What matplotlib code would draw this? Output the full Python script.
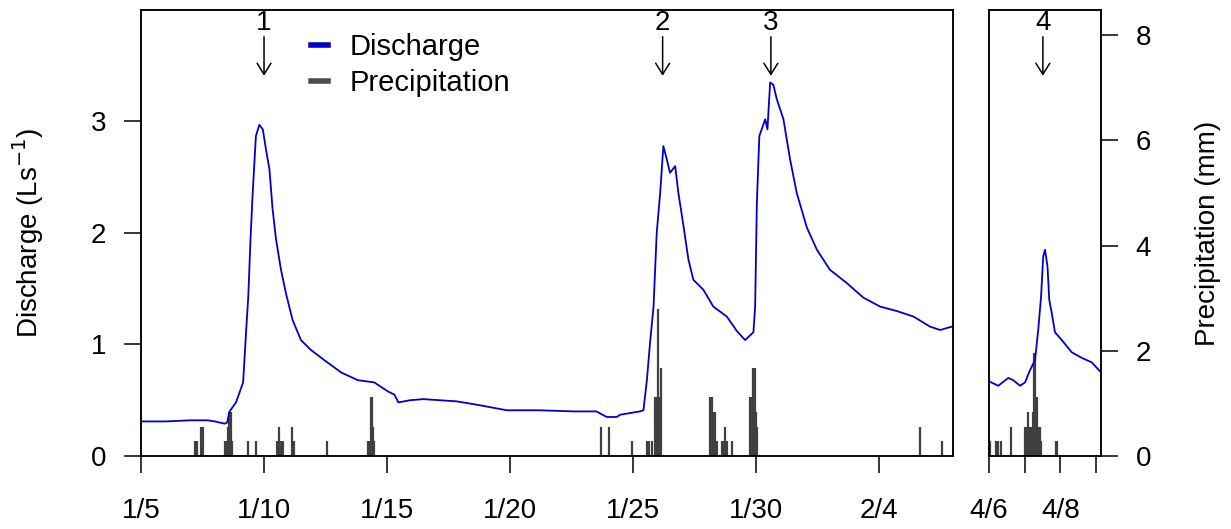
import matplotlib
matplotlib.use('Agg')
import matplotlib.pyplot as plt
from matplotlib.lines import Line2D

plt.rcParams['font.family'] = ['Liberation Sans', 'DejaVu Sans']
plt.rcParams['font.size'] = 20

# discharge, days since 1/5 (L/s)
q_days = [0.0, 1.0, 2.0, 2.7, 3.0, 3.4, 3.5, 3.6, 3.86, 4.15, 4.27, 4.36, 4.45, 4.54,
          4.67, 4.81, 4.95, 5.08, 5.22, 5.35, 5.49, 5.69, 5.89, 6.16, 6.5, 6.91, 7.45,
          8.13, 8.81, 9.48, 10.03, 10.3, 10.46, 10.93, 11.47, 12.83, 13.65, 14.87, 16.2,
          17.57, 18.5, 18.93, 19.34, 19.47, 20.28, 20.42, 20.56, 20.69, 20.83, 20.96,
          21.1, 21.23, 21.37, 21.5, 21.71, 21.84, 22.05, 22.25, 22.45, 22.86, 23.26,
          23.81, 24.22, 24.55, 24.89, 24.96, 25.03, 25.13, 25.37, 25.46, 25.57, 25.7,
          25.84, 26.11, 26.38, 26.65, 27.06, 27.47, 28.0, 28.69, 29.36, 30.04, 30.72,
          31.4, 32.07, 32.48, 32.95, 33.0]
q_vals = [0.31, 0.31, 0.32, 0.32, 0.31, 0.29, 0.30, 0.40, 0.48, 0.66, 1.11, 1.43, 1.94, 2.36,
          2.87, 2.97, 2.93, 2.75, 2.57, 2.21, 1.94, 1.67, 1.46, 1.22, 1.04, 0.95, 0.86,
          0.75, 0.68, 0.66, 0.58, 0.55, 0.48, 0.50, 0.51, 0.49, 0.46, 0.41, 0.41,
          0.40, 0.40, 0.35, 0.35, 0.37, 0.40, 0.41, 0.68, 1.02, 1.34, 2.00,
          2.36, 2.78, 2.66, 2.54, 2.60, 2.36, 2.06, 1.76, 1.58, 1.49, 1.34,
          1.25, 1.12, 1.04, 1.11, 1.34, 2.27, 2.87, 3.02, 2.93, 3.35, 3.33,
          3.20, 3.02, 2.66, 2.36, 2.05, 1.85, 1.67, 1.55, 1.42, 1.34, 1.30,
          1.25, 1.16, 1.13, 1.16, 1.15]

# discharge, days since 4/6
q2_days = [0.0, 0.26, 0.54, 0.68, 0.87, 1.01, 1.15, 1.29, 1.38, 1.46, 1.52, 1.57, 1.64,
           1.69, 1.76, 1.85, 2.04, 2.32, 2.6, 2.88, 3.14]
q2_vals = [0.67, 0.63, 0.70, 0.68, 0.63, 0.66, 0.77, 0.86, 1.13, 1.43, 1.79, 1.85, 1.70,
           1.40, 1.28, 1.11, 1.04, 0.93, 0.88, 0.84, 0.75]

# precipitation (mm)
p_days = [2.19, 2.26, 2.43, 2.50, 3.40, 3.46, 3.52, 3.58, 3.64, 3.69, 4.36, 4.66,
          5.52, 5.58, 5.62, 5.68, 5.74, 5.79, 6.12, 6.20, 7.55,
          9.22, 9.28, 9.33, 9.38, 9.43, 9.48, 18.71, 19.01, 19.97,
          20.56, 20.64, 20.76, 20.88, 20.94, 21.00, 21.06, 21.14,
          23.13, 23.19, 23.26, 23.31, 23.43, 23.63, 23.68, 23.73, 23.78, 23.83, 24.01,
          24.76, 24.82, 24.88, 24.94, 24.99, 25.05, 31.64, 32.55]
p_mm = [0.28, 0.28, 0.56, 0.56, 0.28, 0.28, 0.56, 0.84, 0.84, 0.28, 0.28, 0.28,
        0.28, 0.28, 0.56, 0.28, 0.28, 0.28, 0.56, 0.28, 0.28,
        0.28, 0.28, 1.12, 1.12, 0.56, 0.28, 0.56, 0.56, 0.28,
        0.28, 0.28, 0.28, 1.12, 1.12, 2.80, 1.12, 1.68,
        1.12, 1.12, 0.84, 0.84, 0.28, 0.28, 0.28, 0.56, 0.28, 0.28, 0.28,
        1.12, 1.12, 1.68, 1.68, 0.84, 0.56, 0.56, 0.28]

p2_days = [0.03, 0.19, 0.24, 0.33, 0.62, 1.02, 1.07, 1.10, 1.15, 1.19, 1.22, 1.25, 1.28,
           1.32, 1.35, 1.39, 1.43, 1.47, 1.88, 1.92]
p2_mm = [0.28, 0.28, 0.28, 0.28, 0.56, 0.56, 0.56, 0.84, 0.56, 0.56, 0.84, 1.96, 1.96,
         1.12, 1.12, 0.56, 0.56, 0.28, 0.28, 0.28]

ticks1 = [0, 5, 10, 15, 20, 25, 30]
labels1 = ['1/5', '1/10', '1/15', '1/20', '1/25', '1/30', '2/4']
ticks2 = [0, 1, 2, 3]
labels2 = ['4/6', '', '4/8', '']

events = ['1', '2', '3']
event_days = [5.0, 21.2, 25.6]
event2_day = 1.51

blue = '#0000CD'
grey = '#404040'

fig = plt.figure(figsize=(12.31, 5.29), dpi=100)
ax1 = fig.add_axes([0.11454, 0.138, 0.6596, 0.8431])
ax2 = fig.add_axes([0.80341, 0.138, 0.09098, 0.8431])

tk = dict(direction='out', length=12, width=1.1, color='black', labelsize=20)

# left panel
ax1p = ax1.twinx()
ax1p.vlines(p_days, 0, p_mm, color=grey, lw=1.6)
ax1p.set_ylim(0, 8.48)
ax1p.set_yticks([])
ax1.plot(q_days, q_vals, color=blue, lw=1.3)
ax1.set_zorder(ax1p.get_zorder() + 1)
ax1.patch.set_visible(False)
ax1.set_xlim(0, 33.0)
ax1.set_ylim(0, 4)
ax1.set_yticks([0, 1, 2, 3])
ax1.set_xticks(ticks1)
ax1.set_xticklabels(labels1)
ax1.tick_params(axis='y', pad=13, **tk)
ax1.tick_params(axis='x', pad=18, **tk)
ax1.set_ylabel('Discharge (Ls$^{-1}$)', fontsize=20)
ax1.yaxis.set_label_coords(-0.117, 0.5)

for lab, d in zip(events, event_days):
    ax1.annotate('', xy=(d, 3.41), xytext=(d, 3.76),
                 arrowprops=dict(arrowstyle='->,head_length=0.4,head_width=0.25',
                                 color='black', lw=1.1, shrinkA=0, shrinkB=0))
    ax1.text(d, 3.88, lab, ha='center', va='center', fontsize=20)

handles = [Line2D([], [], color=blue, lw=4), Line2D([], [], color='#4D4D4D', lw=4)]
ax1.legend(handles, ['Discharge', 'Precipitation'], loc='upper left',
           bbox_to_anchor=(0.209, 0.948), frameon=False, handlelength=0.6,
           handletextpad=0.75, labelspacing=0.28, borderpad=0, borderaxespad=0,
           fontsize=21)

# right panel
ax2p = ax2.twinx()
ax2p.vlines(p2_days, 0, p2_mm, color=grey, lw=1.6)
ax2p.set_ylim(0, 8.48)
ax2p.set_yticks([0, 2, 4, 6, 8])
ax2p.tick_params(axis='y', pad=13, **tk)
ax2p.set_ylabel('Precipitation (mm)', fontsize=20)
ax2p.yaxis.set_label_coords(1.84, 0.5)
ax2.plot(q2_days, q2_vals, color=blue, lw=1.3)
ax2.set_zorder(ax2p.get_zorder() + 1)
ax2.patch.set_visible(False)
ax2.set_xlim(0, 3.14)
ax2.set_ylim(0, 4)
ax2.set_yticks([])
ax2.set_xticks(ticks2)
ax2.set_xticklabels(labels2)
ax2.tick_params(axis='x', pad=18, **tk)
ax2.annotate('', xy=(event2_day, 3.41), xytext=(event2_day, 3.76),
             arrowprops=dict(arrowstyle='->,head_length=0.4,head_width=0.25',
                             color='black', lw=1.1, shrinkA=0, shrinkB=0))
ax2.text(event2_day, 3.88, '4', ha='center', va='center', fontsize=20)

for a in (ax1, ax1p, ax2, ax2p):
    for s in a.spines.values():
        s.set_linewidth(1.1)

fig.savefig('out.png', dpi=100)
